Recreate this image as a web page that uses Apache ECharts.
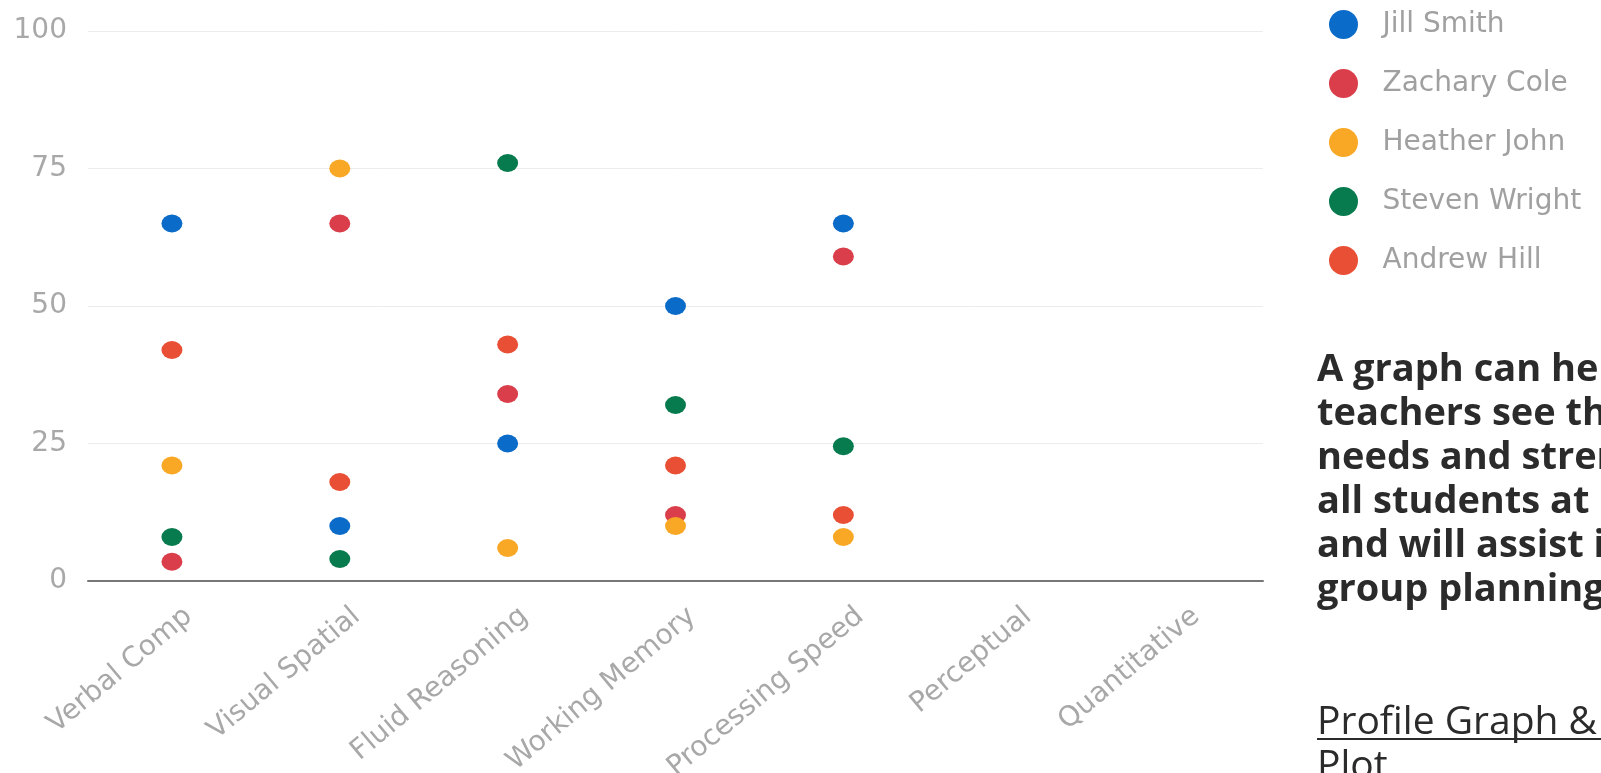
<!DOCTYPE html>
<html>
<head>
<meta charset="utf-8">
<script src="https://cdn.jsdelivr.net/npm/echarts@6/dist/echarts.min.js"></script>
<style>
  html, body { margin: 0; padding: 0; background: #fff; }
  #chart { width: 1601px; height: 773px; }
</style>
</head>
<body>
<div id="chart"></div>
<script>
const categories = ['Verbal Comp', 'Visual Spatial', 'Fluid Reasoning', 'Working Memory', 'Processing Speed', 'Perceptual', 'Quantitative']
const yTicks = { min: 0, max: 100, interval: 25 }

const studentNames = ['Jill Smith', 'Zachary Cole', 'Heather John', 'Steven Wright', 'Andrew Hill']
const jillSmith = [65, 10, 25, 50, 65, null, null]
const zacharyCole = [3.5, 65, 34, 12, 59, null, null]
const heatherJohn = [21, 75, 6, 10, 8, null, null]
const stevenWright = [8, 4, 76, 32, 24.5, null, null]
const andrewHill = [42, 18, 43, 21, 12, null, null]

const seriesValues = [jillSmith, zacharyCole, heatherJohn, stevenWright, andrewHill]
const colors = ['#0b6bc9', '#d93e4a', '#f9a825', '#077a4e', '#e94f34']

const noteLines = ['A graph can help', 'teachers see the', 'needs and strengths of', 'all students at a glance', 'and will assist in small', 'group planning.']

const ellipse = 'path://M0,50 A50,50 0 1,1 100,50 A50,50 0 1,1 0,50 Z'
const grayFont = 'DejaVu Sans'

const chart = echarts.init(document.getElementById('chart'))

const option = {
  backgroundColor: '#ffffff',
  animation: false,
  textStyle: { fontFamily: grayFont },
  grid: {
    left: 88,
    right: 338,
    top: 31,
    bottom: 192,
    containLabel: false,
    outerBoundsMode: 'none'
  },
  legend: {
    orient: 'vertical',
    left: 1324,
    top: 5,
    itemWidth: 34,
    itemHeight: 29,
    itemGap: 30,
    icon: ellipse,
    data: studentNames,
    textStyle: {
      color: '#a0a0a0',
      fontSize: 28,
      fontFamily: grayFont,
      padding: [0, 0, 0, 17]
    }
  },
  xAxis: {
    type: 'category',
    data: categories,
    axisTick: { show: false },
    axisLine: {
      lineStyle: { color: '#777777', width: 2 }
    },
    axisLabel: {
      rotate: 40,
      margin: 46,
      padding: [0, -22, 0, 0],
      color: '#a8a8a8',
      fontSize: 28,
      interval: 0
    },
    splitLine: { show: false }
  },
  yAxis: {
    type: 'value',
    min: yTicks.min,
    max: yTicks.max,
    interval: yTicks.interval,
    axisLine: { show: false },
    axisTick: { show: false },
    axisLabel: {
      color: '#a8a8a8',
      fontSize: 28,
      margin: 21
    },
    splitLine: {
      lineStyle: { color: '#ececec', width: 1 }
    }
  },
  series: studentNames.map((name, i) => ({
    name: name,
    type: 'scatter',
    data: seriesValues[i],
    symbol: ellipse,
    symbolSize: [21, 18],
    itemStyle: { color: colors[i], opacity: 1 }
  })),
  graphic: [
    {
      type: 'text',
      left: 1317,
      top: 348,
      style: {
        text: noteLines.join('\n'),
        fill: '#2b2b2b',
        font: 'bold 38px "Open Sans"',
        lineHeight: 44
      }
    },
    {
      type: 'text',
      left: 1317,
      top: 701,
      style: {
        text: 'Profile Graph & Scatter\nPlot',
        fill: '#2b2b2b',
        font: '39px "Open Sans"',
        lineHeight: 44
      }
    },
    {
      type: 'rect',
      left: 1317,
      top: 738,
      shape: { width: 300, height: 2 },
      style: { fill: '#2b2b2b' }
    }
  ]
}

chart.setOption(option)
</script>
</body>
</html>
